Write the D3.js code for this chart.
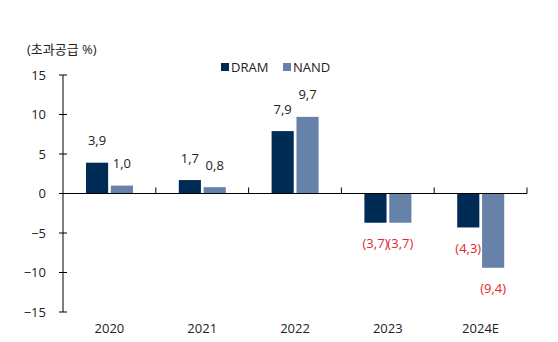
<!DOCTYPE html>
<html>
<head>
<meta charset="utf-8">
<script src="https://cdn.jsdelivr.net/npm/d3@7"></script>
<style>
  body { margin: 0; background: #fff; }
  text { font-family: "Open Sans", "Noto Sans CJK KR", sans-serif; }
</style>
</head>
<body>
<div id="chart"></div>
<script>
const years = ['2020', '2021', '2022', '2023', '2024E'];
const dram = [3.9, 1.7, 7.9, -3.7, -4.3];
const nand = [1.0, 0.8, 9.7, -3.7, -9.4];
const series = ['DRAM', 'NAND'];
const colors = ['#002b55', '#6682a8'];
const yTicks = [15, 10, 5, 0, -5, -10, -15];

const W = 558, H = 342;
const M = { left: 63, right: 527, top: 75, bottom: 312 };
const FS = 13;

const svg = d3.select('#chart').append('svg')
  .attr('width', W).attr('height', H);

const x = d3.scaleBand().domain(years).range([M.left, M.right]);
const y = d3.scaleLinear().domain([-15, 15]).range([M.bottom, M.top]);

const fmt = v => {
  const s = Math.abs(v).toFixed(1).replace('.', ',');
  return v < 0 ? '(' + s + ')' : s;
};

// y axis
const yAxis = svg.append('g');
yAxis.append('line')
  .attr('x1', M.left).attr('x2', M.left)
  .attr('y1', y(15)).attr('y2', y(-15))
  .attr('stroke', '#000');
yAxis.selectAll('line.tick')
  .data(yTicks).enter().append('line')
  .attr('class', 'tick')
  .attr('x1', M.left - 4).attr('x2', M.left + 4)
  .attr('y1', d => y(d)).attr('y2', d => y(d))
  .attr('stroke', '#000');
yAxis.selectAll('text')
  .data(yTicks).enter().append('text')
  .attr('x', 46).attr('y', d => y(d))
  .attr('dy', '0.35em')
  .attr('text-anchor', 'end')
  .attr('font-size', FS)
  .attr('fill', '#222')
  .text(d => d < 0 ? '\u2212' + Math.abs(d) : d);

// bars
const inner = d3.scaleBand().domain(series).range([23, 70]).paddingInner(0.11);
const groups = svg.append('g').selectAll('g')
  .data(years).enter().append('g')
  .attr('transform', d => 'translate(' + x(d) + ',0)');

groups.selectAll('rect')
  .data((d, i) => [dram[i], nand[i]].map((v, j) => ({ v, s: series[j], c: colors[j] })))
  .enter().append('rect')
  .attr('x', d => inner(d.s))
  .attr('width', inner.bandwidth())
  .attr('y', d => y(Math.max(0, d.v)))
  .attr('height', d => Math.abs(y(d.v) - y(0)))
  .attr('fill', d => d.c);

groups.selectAll('text')
  .data((d, i) => [dram[i], nand[i]].map((v, j) => ({ v, s: series[j] })))
  .enter().append('text')
  .attr('x', d => inner(d.s) + inner.bandwidth() / 2)
  .attr('y', d => d.v >= 0 ? y(d.v) - 22 : y(d.v) + 21)
  .attr('dy', '0.35em')
  .attr('text-anchor', 'middle')
  .attr('font-size', FS)
  .attr('fill', d => d.v < 0 ? '#e0282e' : '#222')
  .text(d => fmt(d.v));

// x axis at zero
const xAxis = svg.append('g');
xAxis.append('line')
  .attr('x1', M.left).attr('x2', M.right)
  .attr('y1', y(0)).attr('y2', y(0))
  .attr('stroke', '#000');
xAxis.selectAll('line.tick')
  .data(years.map(d => x(d) + x.bandwidth()))
  .enter().append('line')
  .attr('class', 'tick')
  .attr('x1', d => d).attr('x2', d => d)
  .attr('y1', y(0) - 6).attr('y2', y(0))
  .attr('stroke', '#000');
xAxis.selectAll('text')
  .data(years).enter().append('text')
  .attr('x', d => x(d) + x.bandwidth() / 2)
  .attr('y', 328)
  .attr('dy', '0.35em')
  .attr('text-anchor', 'middle')
  .attr('font-size', FS)
  .attr('fill', '#222')
  .text(d => d);

// unit label
svg.append('text')
  .attr('x', 27).attr('y', 49)
  .attr('dy', '0.35em')
  .attr('font-size', FS)
  .attr('fill', '#222')
  .text('(초과공급 %)');

// legend
const legend = svg.append('g').selectAll('g')
  .data(series).enter().append('g')
  .attr('transform', (d, i) => 'translate(' + (221 + i * 62) + ',67)');
legend.append('rect')
  .attr('x', 0).attr('y', -4)
  .attr('width', 8).attr('height', 8)
  .attr('fill', (d, i) => colors[i]);
legend.append('text')
  .attr('x', 10).attr('y', 0)
  .attr('dy', '0.35em')
  .attr('font-size', FS)
  .attr('fill', '#222')
  .text(d => d);
</script>
</body>
</html>
